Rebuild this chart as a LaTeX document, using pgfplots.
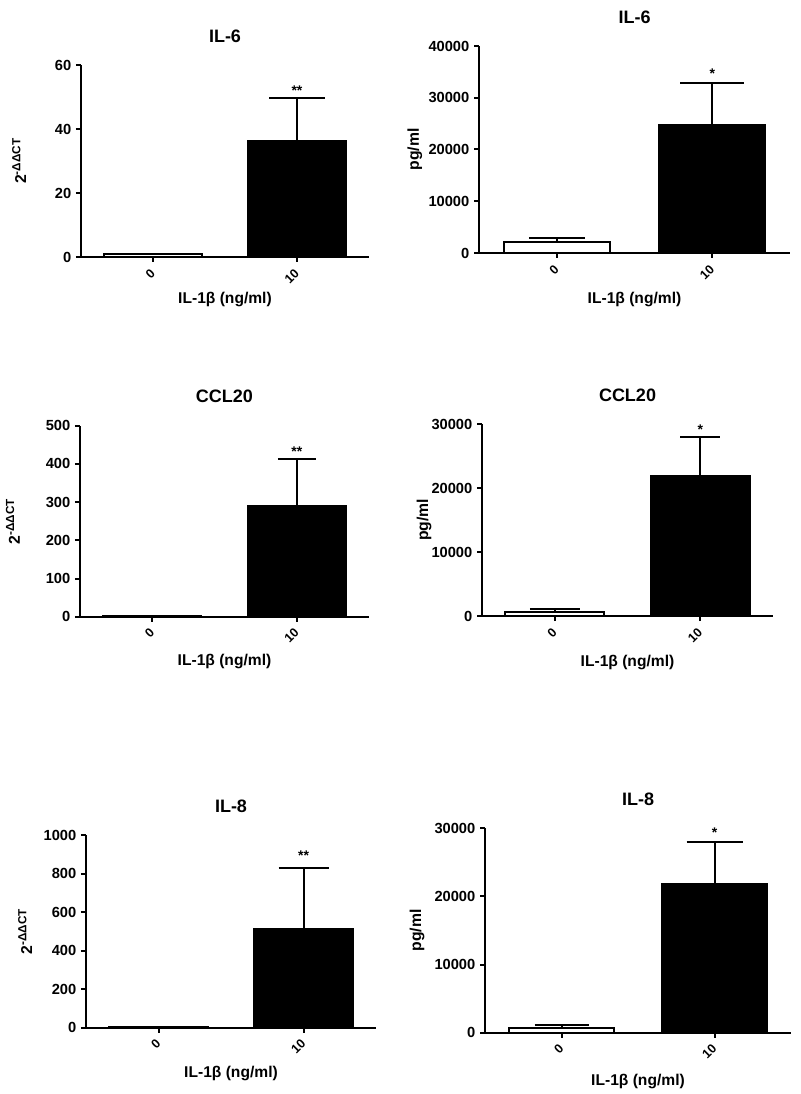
\documentclass[border=0pt]{standalone}
\usepackage{fontspec}
\setmainfont{Liberation Sans}
\usepackage{pgfplots}
\pgfplotsset{compat=1.18}
\newlength{\pxu}
\setlength{\pxu}{0.75pt}
\newcommand\tickfont{\bfseries\fontsize{11pt}{13pt}\selectfont}
\newcommand\xtickfont{\bfseries\fontsize{9.5pt}{11pt}\selectfont}
\newcommand\labfont{\bfseries\fontsize{11.8pt}{14pt}\selectfont}
\newcommand\xlabfont{\bfseries\fontsize{11.7pt}{14pt}\selectfont}
\newcommand\titlefont{\bfseries\fontsize{13.5pt}{15pt}\selectfont}
\newcommand\starfont{\bfseries\fontsize{10.5pt}{12pt}\selectfont}
\pgfplotsset{
  gp/.style={
    scale only axis,
    axis x line*=bottom, axis y line*=left,
    axis line style={line width=1.5pt, -},
    xmin=-0.5, xmax=1.5, ymin=0,
    xtick={0,1}, xticklabels={0,10},
    tick align=outside,
    major tick length=5\pxu,
    tick style={line width=1.5pt, black},
    yticklabel style={font=\tickfont},
    xticklabel style={font=\xtickfont, rotate=45, anchor=east, inner sep=0pt},
    xticklabel shift=9\pxu,
    scaled y ticks=false,
    /pgf/number format/.cd, 1000 sep={}, assume math mode=true, /pgfplots/.cd,
    title style={font=\titlefont, at={(axis description cs:0.5,1)}, anchor=center, yshift=21\pxu},
    xlabel={IL-1β (ng/ml)},
    xlabel style={font=\xlabfont, at={(axis description cs:0.5,0)}, anchor=center},
    ylabel style={font=\labfont, anchor=center},
    clip=false,
  },
  bar0/.style={ybar, bar width=0.68, bar shift=0pt, fill=white, draw=black, line width=1.5pt},
  bar1/.style={ybar, bar width=0.68, bar shift=0pt, fill=black, draw=black, line width=1.5pt},
  err/.style={error bars/.cd, y dir=plus, y explicit,
    error bar style={line width=1.5pt, black},
    error mark=|, error mark options={line width=1.5pt, black, mark size=#1\pxu}},
}
\newcommand\ddct{2\textsuperscript{\fontsize{8.8pt}{10pt}\selectfont -ΔΔCT}}
\begin{document}
\begin{tikzpicture}
\useasboundingbox (0,0) rectangle (800\pxu,-1094\pxu);
% Panel 1
\begin{axis}[gp, at={(81\pxu,-257\pxu)}, anchor=south west, width=288\pxu, height=192\pxu,
  ymax=60, ytick={0,20,40,60}, title={IL-6}, ylabel={\ddct},
  ylabel style={at={(axis description cs:-0.215,0.5)}}, xlabel style={yshift=-43\pxu}]
\addplot[bar0] coordinates {(0,1)};
\addplot[bar1, err=28] coordinates {(1,36.3) +- (0,13.5)};
\node[font=\starfont, anchor=base, yshift=2\pxu] at (axis cs:1,49.8) {**};
\end{axis}
% Panel 2
\begin{axis}[gp, at={(479\pxu,-253\pxu)}, anchor=south west, width=311\pxu, height=207\pxu,
  ymax=40000, ytick={0,10000,20000,30000,40000}, title={IL-6}, ylabel={pg/ml},
  ylabel style={at={(axis description cs:-0.206,0.5)}}, xlabel style={yshift=-47\pxu}]
\addplot[bar0, err=28] coordinates {(0,2100) +- (0,800)};
\addplot[bar1, err=32] coordinates {(1,24800) +- (0,8000)};
\node[font=\starfont, anchor=base, yshift=5\pxu] at (axis cs:1,32800) {*};
\end{axis}
% Panel 3
\begin{axis}[gp, at={(80\pxu,-616.7\pxu)}, anchor=south west, width=289\pxu, height=191\pxu,
  ymax=500, ytick={0,100,200,300,400,500}, title={CCL20}, ylabel={\ddct},
  ylabel style={at={(axis description cs:-0.232,0.5)}}, xlabel style={yshift=-45\pxu}]
\addplot[bar0] coordinates {(0,2)};
\addplot[bar1, err=19] coordinates {(1,291) +- (0,121)};
\node[font=\starfont, anchor=base, yshift=3\pxu] at (axis cs:1,412) {**};
\end{axis}
% Panel 4
\begin{axis}[gp, at={(482\pxu,-616\pxu)}, anchor=south west, width=291\pxu, height=192\pxu,
  ymax=30000, ytick={0,10000,20000,30000}, title={CCL20}, ylabel={pg/ml},
  ylabel style={at={(axis description cs:-0.199,0.5)}}, xlabel style={yshift=-46\pxu}]
\addplot[bar0, err=25] coordinates {(0,700) +- (0,400)};
\addplot[bar1, err=20] coordinates {(1,21900) +- (0,6100)};
\node[font=\starfont, anchor=base, yshift=2\pxu] at (axis cs:1,28000) {*};
\end{axis}
% Panel 5
\begin{axis}[gp, at={(86\pxu,-1027.7\pxu)}, anchor=south west, width=290\pxu, height=192.7\pxu,
  ymax=1000, ytick={0,200,400,600,800,1000}, title={IL-8}, ylabel={\ddct},
  ylabel style={at={(axis description cs:-0.21,0.5)}}, xlabel style={yshift=-46\pxu}]
\addplot[bar0] coordinates {(0,3)};
\addplot[bar1, err=25] coordinates {(1,512) +- (0,318)};
\node[font=\starfont, anchor=base, yshift=7\pxu] at (axis cs:1,830) {**};
\end{axis}
% Panel 6
\begin{axis}[gp, at={(485\pxu,-1032.7\pxu)}, anchor=south west, width=306\pxu, height=204.4\pxu,
  ymax=30000, ytick={0,10000,20000,30000}, title={IL-8}, ylabel={pg/ml},
  ylabel style={at={(axis description cs:-0.222,0.5)}}, xlabel style={yshift=-49\pxu}]
\addplot[bar0, err=27] coordinates {(0,700) +- (0,400)};
\addplot[bar1, err=28] coordinates {(1,21900) +- (0,6100)};
\node[font=\starfont, anchor=base, yshift=4\pxu] at (axis cs:1,28000) {*};
\end{axis}
\end{tikzpicture}
\end{document}
